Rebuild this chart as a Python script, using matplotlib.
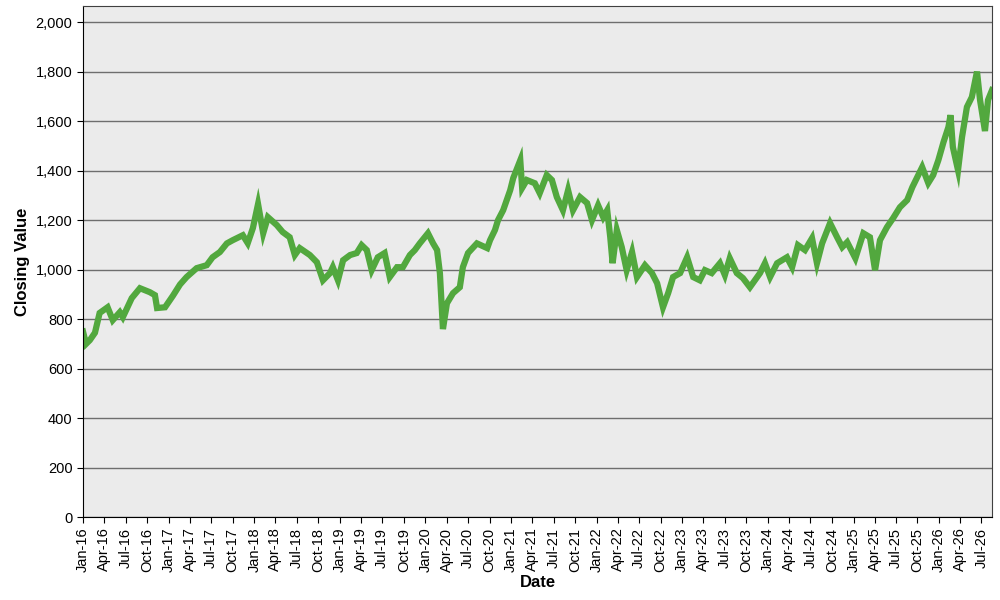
import pandas as pd
import matplotlib
matplotlib.use('Agg')
import matplotlib.pyplot as plt
import matplotlib.dates as mdates
from matplotlib.ticker import FuncFormatter, MultipleLocator

plt.rcParams['font.family'] = ['Liberation Sans', 'DejaVu Sans']

# 读取的数据（从图上估计）
dates = [
    '2016-01-01', '2016-01-14', '2016-01-30', '2016-02-21', '2016-03-12', '2016-04-15',
    '2016-05-07', '2016-06-06', '2016-06-19', '2016-07-27', '2016-08-31', '2016-10-12',
    '2016-11-03', '2016-11-12', '2016-12-16', '2017-01-19', '2017-02-18', '2017-03-18',
    '2017-04-30', '2017-06-12', '2017-07-07', '2017-08-07', '2017-09-06', '2017-10-01',
    '2017-11-13', '2017-12-04', '2017-12-26', '2018-01-17', '2018-02-08', '2018-02-28',
    '2018-04-07', '2018-05-02', '2018-06-01', '2018-06-23', '2018-07-14', '2018-08-26',
    '2018-09-25', '2018-10-21', '2018-11-20', '2018-12-02', '2018-12-24', '2019-01-15',
    '2019-02-14', '2019-03-14', '2019-04-04', '2019-04-26', '2019-05-17', '2019-06-12',
    '2019-07-11', '2019-08-02', '2019-09-02', '2019-09-27', '2019-10-27', '2019-11-17',
    '2019-12-08', '2020-01-12', '2020-02-03', '2020-02-20', '2020-03-03', '2020-03-16',
    '2020-04-02', '2020-04-28', '2020-05-27', '2020-06-09', '2020-07-01', '2020-08-08',
    '2020-09-21', '2020-10-03', '2020-10-24', '2020-11-06', '2020-11-28', '2020-12-28',
    '2021-01-10', '2021-02-09', '2021-02-17', '2021-03-09', '2021-04-12', '2021-05-03',
    '2021-06-02', '2021-06-24', '2021-07-15', '2021-08-10', '2021-09-01', '2021-09-22',
    '2021-10-22', '2021-11-21', '2021-12-12', '2022-01-07', '2022-01-29', '2022-02-15',
    '2022-02-28', '2022-03-10', '2022-03-28', '2022-04-18', '2022-05-09', '2022-06-01',
    '2022-06-22', '2022-07-26', '2022-08-25', '2022-09-16', '2022-10-11', '2022-11-02',
    '2022-11-23', '2022-12-23', '2023-01-22', '2023-02-17', '2023-03-17', '2023-04-08',
    '2023-05-07', '2023-06-11', '2023-07-02', '2023-07-23', '2023-08-22', '2023-09-17',
    '2023-10-17', '2023-11-29', '2023-12-20', '2024-01-11', '2024-02-10', '2024-03-23',
    '2024-04-14', '2024-05-09', '2024-06-08', '2024-07-08', '2024-07-29', '2024-08-20',
    '2024-09-23', '2024-10-23', '2024-11-14', '2024-12-05', '2025-01-09', '2025-02-12',
    '2025-03-12', '2025-04-03', '2025-04-24', '2025-05-24', '2025-06-19', '2025-07-18',
    '2025-08-18', '2025-09-09', '2025-09-30', '2025-10-21', '2025-11-16', '2025-12-07',
    '2025-12-29', '2026-01-20', '2026-02-10', '2026-02-19', '2026-03-01', '2026-03-23',
    '2026-04-09', '2026-04-30', '2026-05-21', '2026-06-12', '2026-06-25', '2026-07-16',
    '2026-07-29', '2026-08-15',
]
closing = [
    750, 700, 715, 745, 825, 848,
    796, 828, 808, 885, 925, 909,
    897, 845, 848, 895, 940, 970,
    1006, 1018, 1050, 1071, 1106, 1119,
    1139, 1107, 1168, 1265, 1147, 1212,
    1180, 1152, 1131, 1059, 1087, 1059,
    1030, 957, 986, 1010, 957, 1038,
    1059, 1067, 1099, 1079, 998, 1050,
    1067, 970, 1010, 1010, 1059, 1079,
    1106, 1147, 1106, 1079, 986, 760,
    864, 905, 929, 1010, 1067, 1106,
    1087, 1119, 1160, 1200, 1240, 1321,
    1370, 1442, 1330, 1362, 1349, 1309,
    1382, 1362, 1293, 1240, 1321, 1240,
    1293, 1269, 1200, 1260, 1212, 1240,
    1131, 1026, 1160, 1091, 998, 1071,
    970, 1018, 986, 945, 848, 905,
    970, 986, 1050, 970, 957, 998,
    986, 1026, 978, 1046, 986, 966,
    929, 986, 1026, 970, 1026, 1050,
    1010, 1099, 1079, 1127, 1026, 1106,
    1188, 1131, 1091, 1111, 1046, 1147,
    1131, 998, 1119, 1172, 1208, 1252,
    1281, 1333, 1374, 1414, 1350, 1382,
    1442, 1515, 1576, 1624, 1495, 1402,
    1535, 1657, 1697, 1800, 1685, 1560,
    1685, 1725,
]

data = pd.DataFrame({'Date': pd.to_datetime(dates), 'Close': closing})

fig = plt.figure(figsize=(10, 6), dpi=100)
ax = fig.add_axes([0.083, 0.138, 0.909, 0.852])
ax.set_facecolor('#ebebeb')

ax.plot(data['Date'], data['Close'], color='#52a83e', linewidth=4.5, solid_joinstyle='miter')

ax.set_xlim(pd.Timestamp('2016-01-01'), pd.Timestamp('2026-08-15'))
ax.set_ylim(0, 2065)

ax.yaxis.set_major_locator(MultipleLocator(200))
ax.yaxis.set_major_formatter(FuncFormatter(lambda v, p: f'{int(v):,}'))
ax.xaxis.set_major_locator(mdates.MonthLocator(bymonth=[1, 4, 7, 10]))
ax.xaxis.set_major_formatter(mdates.DateFormatter('%b-%y'))
plt.setp(ax.get_xticklabels(), rotation=90)

ax.grid(axis='y', color='#6e6e6e', linewidth=1)
ax.set_axisbelow(True)
ax.tick_params(labelsize=10.5, colors='black', length=4)

ax.spines['left'].set_color('black')
ax.spines['bottom'].set_color('black')
ax.spines['top'].set_color('#404040')
ax.spines['right'].set_color('#404040')

ax.set_xlabel('Date', fontsize=12, fontweight='bold', labelpad=2)
ax.set_ylabel('Closing Value', fontsize=12, fontweight='bold', labelpad=4)

fig.savefig('out.png', dpi=100)
